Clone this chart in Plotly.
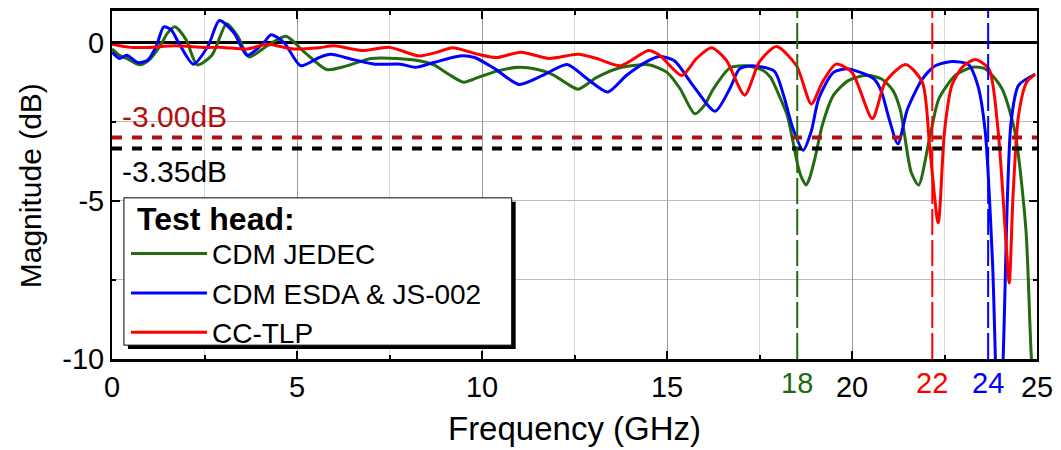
import plotly.graph_objects as go

# ---------------- data ----------------
f_jedec = [0, 0.2, 0.4, 0.75, 1.0, 1.3, 1.5, 1.7, 2.0, 2.3, 2.7, 3.1, 3.4, 3.7, 4.2, 4.7, 5.2, 5.8,
           6.3, 7.0, 7.7, 8.3, 8.7, 9.1, 9.5, 9.9, 10.4, 11.0, 11.5, 11.9, 12.3, 12.6, 13.1, 13.7,
           14.5, 15.0, 15.35, 15.75, 16.0, 16.26, 16.7, 17.15, 17.6, 17.8, 18.04, 18.25, 18.4,
           18.55, 18.65, 18.76, 18.85, 19.0, 19.2, 19.5, 19.9, 20.4, 20.8, 21.1, 21.3, 21.6, 21.8,
           22.1, 22.35, 22.8, 23.25, 23.6, 24.05, 24.4, 24.7, 24.85, 25.0]
m_jedec = [-0.2, -0.4, -0.5, -0.7, -0.55, -0.1, 0.3, 0.5, 0.1, -0.7, -0.4, 0.6, 0.2, -0.45, -0.1,
           0.2, -0.3, -0.85, -0.75, -0.5, -0.5, -0.57, -0.7, -1.0, -1.25, -1.1, -0.9, -0.78, -0.85,
           -1.0, -1.3, -1.47, -1.1, -0.8, -0.7, -0.94, -1.45, -2.25, -2.0, -1.45, -0.8, -0.73, -0.88,
           -1.1, -1.7, -2.3, -3.1, -3.95, -4.3, -4.5, -4.3, -3.65, -2.6, -1.66, -1.2, -1.03, -1.15,
           -1.5, -2.1, -4.1, -4.5, -3.0, -1.77, -1.03, -0.78, -0.83, -1.45, -2.8, -5.9, -10.0, -12.0]

f_esda = [0, 0.2, 0.4, 0.7, 0.97, 1.2, 1.4, 1.6, 1.8, 2.2, 2.6, 2.9, 3.3, 3.65, 4.1, 4.3, 4.65,
          5.1, 5.6, 5.9, 6.5, 7.1, 7.8, 8.2, 8.7, 9.4, 9.8, 10.35, 11.0, 11.7, 12.3, 12.85, 13.4,
          13.9, 14.5, 14.8, 15.2, 15.7, 16.3, 16.7, 16.96, 17.3, 17.9, 18.15, 18.4, 18.68, 18.9,
          19.1, 19.5, 19.9, 20.6, 20.8, 21.0, 21.24, 21.5, 21.9, 22.25, 22.7, 23.15, 23.4, 23.6,
          23.8, 23.95, 24.05, 24.2, 24.3, 24.5, 24.95]
m_esda = [-0.3, -0.5, -0.4, -0.63, -0.55, -0.1, 0.5, 0.4, 0.0, -0.68, -0.1, 0.7, 0.3, -0.4, 0.0,
          0.25, 0.0, -0.73, -0.47, -0.37, -0.53, -0.68, -0.68, -0.78, -0.63, -0.42, -0.47, -0.83,
          -1.32, -1.0, -0.69, -1.15, -1.56, -1.04, -0.57, -0.44, -0.57, -1.35, -2.17, -1.45, -0.83,
          -0.73, -0.9, -1.66, -2.7, -3.4, -2.8, -1.77, -0.94, -0.83, -1.15, -1.56, -2.4, -3.2, -2.1,
          -1.15, -0.73, -0.6, -0.69, -1.35, -2.8, -7.0, -12.0, -11.0, -4.9, -2.5, -1.35, -1.0]

f_tlp = [0, 0.5, 1.0, 1.7, 2.5, 3.0, 3.65, 4.2, 4.9, 5.6, 6.0, 6.75, 7.5, 8.3, 8.8, 9.2, 9.9,
         10.4, 11.05, 11.8, 12.6, 13.1, 13.75, 14.5, 14.8, 15.4, 15.8, 16.2, 16.6, 17.1, 17.5,
         17.96, 18.5, 18.9, 19.2, 19.57, 20.0, 20.55, 20.9, 21.45, 21.9, 22.1, 22.33, 22.5, 22.7,
         22.98, 23.33, 23.7, 23.95, 24.14, 24.25, 24.35, 24.5, 24.72, 24.95]
m_tlp = [-0.05, -0.15, -0.15, -0.1, -0.15, -0.15, -0.2, -0.05, -0.2, -0.16, -0.1, -0.25, -0.15,
         -0.42, -0.3, -0.16, -0.37, -0.47, -0.3, -0.5, -0.37, -0.5, -0.73, -0.25, -0.4, -1.04,
         -0.5, -0.16, -0.55, -1.66, -0.6, -0.12, -0.73, -1.94, -1.25, -0.68, -0.94, -2.4, -1.25,
         -0.69, -1.25, -3.3, -5.7, -2.8, -1.35, -0.78, -0.53, -0.83, -2.8, -5.9, -7.6, -4.9, -2.3,
         -1.25, -1.0]

series_names = ["CDM JEDEC", "CDM ESDA &amp; JS-002", "CC-TLP"]
series_colors = ["#236b0e", "#0000ff", "#ff0000"]

thresholds = [-3.00, -3.35]
threshold_labels = ["-3.00dB", "-3.35dB"]
threshold_colors = ["#b01010", "#000000"]

cutoff_freqs = [18.52, 22.17, 23.68]
cutoff_labels = ["18", "22", "24"]
cutoff_colors = ["#236b0e", "#ff0000", "#0000ff"]

x_ticks = [0, 5, 10, 15, 20, 25]
y_ticks = [-10, -5, 0]

FONT = "Liberation Sans, Arial, sans-serif"

fig = go.Figure()
for fx, my, name, col in zip([f_jedec, f_esda, f_tlp], [m_jedec, m_esda, m_tlp],
                             series_names, series_colors):
    fig.add_trace(go.Scatter(x=fx, y=my, mode="lines", name=name,
                             line=dict(color=col, width=3, shape="spline", smoothing=0.7)))

# threshold dashed lines + labels
for th, col in zip(thresholds, threshold_colors):
    fig.add_shape(type="line", xref="paper", yref="y", x0=0, x1=1, y0=th, y1=th,
                  line=dict(color=col, width=4, dash="10px,10px"), layer="above")
fig.add_annotation(text=threshold_labels[0], xref="paper", yref="y", x=0.009, y=-2.34,
                   xanchor="left", yanchor="middle", showarrow=False,
                   font=dict(family=FONT, size=30, color=threshold_colors[0]))
fig.add_annotation(text=threshold_labels[1], xref="paper", yref="y", x=0.009, y=-4.06,
                   xanchor="left", yanchor="middle", showarrow=False,
                   font=dict(family=FONT, size=30, color=threshold_colors[1]))

# cutoff vertical dashed lines + coloured labels
for fc, lab, col in zip(cutoff_freqs, cutoff_labels, cutoff_colors):
    fig.add_shape(type="line", xref="x", yref="paper", x0=fc, x1=fc, y0=0, y1=1,
                  line=dict(color=col, width=2, dash="26px,5px"), layer="above")
    fig.add_annotation(text=lab, xref="x", yref="paper", x=fc, y=0, yanchor="top",
                       yshift=-6, showarrow=False,
                       font=dict(family=FONT, size=29, color=col))

# legend frame: drop shadow + white box + title
fig.add_shape(type="rect", xref="paper", yref="paper", x0=0.0172, x1=0.4364, y0=0.0284, y1=0.4517,
              fillcolor="black", line=dict(width=0), layer="above")
fig.add_shape(type="rect", xref="paper", yref="paper", x0=0.0129, x1=0.4321, y0=0.0398, y1=0.4631,
              fillcolor="white", line=dict(color="black", width=1), layer="above")
fig.add_annotation(text="<b>Test head:</b>", xref="paper", yref="paper", x=0.0248, y=0.4034,
                   xanchor="left", yanchor="middle", showarrow=False,
                   font=dict(family=FONT, size=32, color="black"))

# y-axis title
fig.add_annotation(text="Magnitude (dB)", xref="paper", yref="paper", x=-0.0884, y=0.497,
                   xanchor="center", yanchor="middle", textangle=-90, showarrow=False,
                   font=dict(family=FONT, size=30, color="black"))

fig.update_layout(
    width=1061, height=450,
    margin=dict(l=112, r=21, t=8, b=90),
    paper_bgcolor="white", plot_bgcolor="white",
    font=dict(family=FONT, size=29, color="black"),
    showlegend=True,
    legend=dict(x=0.0151, y=0.374, xanchor="left", yanchor="top",
                bgcolor="rgba(0,0,0,0)", borderwidth=0,
                font=dict(family=FONT, size=28, color="black"),
                tracegroupgap=0, itemwidth=76),
    xaxis=dict(range=[0, 25], tickvals=x_ticks, ticks="inside", ticklen=8, tickwidth=2,
               tickcolor="black", showline=True, linecolor="black", linewidth=3, mirror="ticks",
               showgrid=True, gridcolor="#999999", gridwidth=1, zeroline=False,
               minor=dict(dtick=2.5, ticks="inside", ticklen=4, tickcolor="black",
                          showgrid=True, gridcolor="#d9d9d9"),
               title=dict(text="Frequency (GHz)", font=dict(size=33), standoff=16),
               tickfont=dict(size=29)),
    yaxis=dict(range=[-10, 1], tickvals=y_ticks, ticktext=["-10", "-5", "0"],
               ticks="inside", ticklen=8, tickwidth=2,
               tickcolor="black", showline=True, linecolor="black", linewidth=2, mirror="ticks",
               showgrid=True, gridcolor="#bbbbbb", gridwidth=1,
               zeroline=True, zerolinecolor="black", zerolinewidth=3,
               minor=dict(dtick=2.5, ticks="inside", ticklen=4, tickcolor="black",
                          showgrid=True, gridcolor="#bbbbbb"),
               tickfont=dict(size=29)),
)

fig.write_html("out.html")
